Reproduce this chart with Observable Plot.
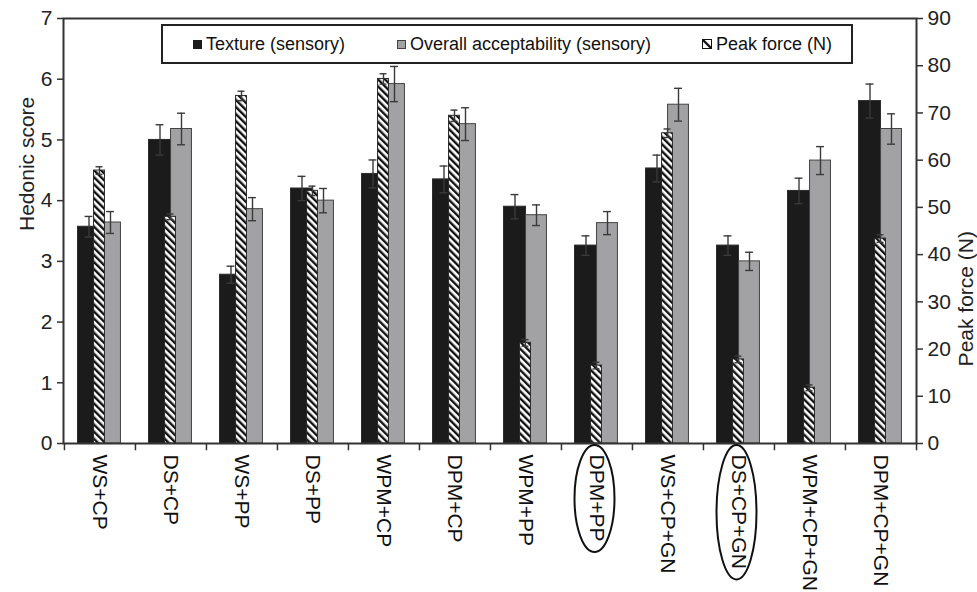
<!DOCTYPE html>
<html>
<head>
<meta charset="utf-8">
<script src="https://cdn.jsdelivr.net/npm/d3@7"></script>
<script src="https://cdn.jsdelivr.net/npm/@observablehq/plot@0.6"></script>
<style>
  body { margin: 0; background: #fff; font-family: "Liberation Sans", Arial, sans-serif; }
  #wrap { position: relative; width: 977px; height: 592px; }
  #wrap svg { display: block; }
  .legend { position: absolute; left: 161px; top: 24px; width: 692px; height: 40px;
            box-sizing: border-box; border: 2px solid #222; background: #fff; }
  .legend .item { position: absolute; top: 0; height: 36px; display: flex; align-items: center;
                  font-size: 18px; color: #111; white-space: nowrap; }
  .legend .sw { width: 9px; height: 9px; box-sizing: border-box; margin-right: 4px; }
</style>
</head>
<body>
<div id="wrap"></div>
<script>
// Treatments (flour + protein source [+ gluten])
const categories = ["WS+CP", "DS+CP", "WS+PP", "DS+PP", "WPM+CP", "DPM+CP", "WPM+PP",
                    "DPM+PP", "WS+CP+GN", "DS+CP+GN", "WPM+CP+GN", "DPM+CP+GN"];
// Sensory hedonic scores (left axis) with standard errors
const texture      = [3.57, 5.00, 2.78, 4.20, 4.44, 4.35, 3.90, 3.26, 4.53, 3.26, 4.16, 5.64];
const textureErr   = [0.17, 0.25, 0.14, 0.20, 0.23, 0.22, 0.20, 0.16, 0.22, 0.16, 0.21, 0.28];
const overall      = [3.64, 5.18, 3.86, 4.00, 5.92, 5.26, 3.76, 3.63, 5.58, 3.00, 4.66, 5.18];
const overallErr   = [0.18, 0.26, 0.19, 0.20, 0.29, 0.27, 0.17, 0.19, 0.27, 0.15, 0.23, 0.25];
// Instrumental peak force in newtons (right axis)
const peakForce    = [57.8, 48.0, 73.6, 53.5, 77.2, 69.4, 21.3, 16.5, 65.7, 17.8, 11.8, 43.4];
const peakForceErr = [0.8, 0.6, 1.0, 1.0, 1.1, 1.2, 0.7, 0.7, 0.9, 0.7, 0.6, 0.8];
// Axis ticks
const hedonicTicks = [0, 1, 2, 3, 4, 5, 6, 7];
const forceTicks   = [0, 10, 20, 30, 40, 50, 60, 70, 80, 90];
// Treatments circled below the axis
const highlighted  = ["DPM+PP", "DS+CP+GN"];

const hedonicMax = 7, forceMax = 90;
const k = hedonicMax / forceMax; // newtons -> hedonic units for the shared y scale

const rows = categories.map((cat, i) => ({
  cat,
  texture: texture[i], textureLo: texture[i] - textureErr[i], textureHi: texture[i] + textureErr[i],
  overall: overall[i], overallLo: overall[i] - overallErr[i], overallHi: overall[i] + overallErr[i],
  force: peakForce[i] * k,
  forceLo: (peakForce[i] - peakForceErr[i]) * k, forceHi: (peakForce[i] + peakForceErr[i]) * k
}));

const W = 977, H = 592, mL = 63, mR = 61, mT = 18, mB = 149;
const bw = (W - mL - mR) / categories.length;
const half = bw / 2;
const ink = "#2a2a2a";
const errInk = "#3a3a3a";

// bar geometry within each band
const blackIn = {insetLeft: half - 22, insetRight: half};
const greyIn  = {insetLeft: half, insetRight: half - 21};
const hatchIn = {insetLeft: half - 6, insetRight: half - 5};

function errorBar(lo, hi, offset, capHalf) {
  const cap = {insetLeft: half + offset - capHalf, insetRight: half - offset - capHalf,
               stroke: errInk, strokeWidth: 1.4};
  return [
    Plot.ruleX(rows, {x: "cat", y1: lo, y2: hi, dx: offset, stroke: errInk, strokeWidth: 1.4}),
    Plot.tickY(rows, {x: "cat", y: hi, ...cap}),
    Plot.tickY(rows, {x: "cat", y: lo, ...cap})
  ];
}

const chart = Plot.plot({
  width: W, height: H,
  marginLeft: mL, marginRight: mR, marginTop: mT, marginBottom: mB,
  style: {fontFamily: '"Liberation Sans", Arial, sans-serif', fontSize: "21px", color: "#222", background: "#fff"},
  x: {domain: categories, padding: 0, axis: null},
  y: {domain: [0, hedonicMax], axis: null},
  marks: [
    Plot.barY(rows, {x: "cat", y: "texture", fill: "#1b1b1b", stroke: ink, strokeWidth: 1, ...blackIn}),
    Plot.barY(rows, {x: "cat", y: "overall", fill: "#a2a2a4", stroke: "#444", strokeWidth: 1, ...greyIn}),
    Plot.barY(rows, {x: "cat", y: "force", fill: "url(#hatch)", stroke: ink, strokeWidth: 1, ...hatchIn}),
    ...errorBar("textureLo", "textureHi", -11, 4),
    ...errorBar("overallLo", "overallHi", 10.5, 4),
    ...errorBar("forceLo", "forceHi", -0.5, 3.5),
    Plot.frame({stroke: "#333", strokeWidth: 2}),
    // band separators below the category axis
    Plot.ruleX(categories, {x: d => d, dx: -half, y1: 0, y2: -0.12, stroke: "#333", strokeWidth: 1.5}),
    Plot.ruleX(categories.slice(-1), {x: d => d, dx: half, y1: 0, y2: -0.12, stroke: "#333", strokeWidth: 1.5}),
    Plot.axisY(hedonicTicks, {anchor: "left", tickSize: 6, tickPadding: 5, label: null,
                fontSize: 21, stroke: "#333", strokeWidth: 1.5, tickFormat: d => String(d)}),
    Plot.axisY(forceTicks.map(n => n * k), {anchor: "right", tickSize: 6, tickPadding: 5, label: null,
                fontSize: 21, stroke: "#333", strokeWidth: 1.5, tickFormat: v => String(Math.round(v / k))}),
    Plot.text(categories, {x: d => d, y: 0, rotate: 90, textAnchor: "start", dy: 11,
                           fontSize: 21, fill: "#111"}),
    Plot.text(["Hedonic score"], {frameAnchor: "left", rotate: -90, dx: -36, fontSize: 21, fill: "#222"}),
    Plot.text(["Peak force (N)"], {frameAnchor: "right", rotate: -90, dx: 50, fontSize: 21, fill: "#222"})
  ]
});

// diagonal hatch used by the peak-force bars
const svg = d3.select(chart);
const defs = svg.insert("defs", ":first-child");
const pat = defs.append("pattern").attr("id", "hatch").attr("patternUnits", "userSpaceOnUse")
  .attr("width", 5).attr("height", 5).attr("patternTransform", "rotate(-45)");
pat.append("rect").attr("width", 5).attr("height", 5).attr("fill", "#fff");
pat.append("rect").attr("width", 2.4).attr("height", 5).attr("fill", "#111");

const wrap = document.getElementById("wrap");
wrap.appendChild(chart);

// ellipses around the circled category labels
const xs = chart.scale("x"), ys = chart.scale("y");
const axisY0 = ys.apply(0);
svg.selectAll("text").each(function () {
  const label = this.textContent;
  if (!highlighted.includes(label) || this.getAttribute("transform") == null) return;
  if (!/rotate\(90\)/.test(this.getAttribute("transform"))) return;
  const len = this.getComputedTextLength();
  const cx = xs.apply(label) + xs.bandwidth / 2 - 2;
  svg.append("ellipse")
    .attr("cx", cx).attr("cy", axisY0 + 11 + len / 2 + 1)
    .attr("rx", 20).attr("ry", len / 2 + 10)
    .attr("fill", "none").attr("stroke", "#111").attr("stroke-width", 2);
});

// legend inside the top of the frame
const legend = document.createElement("div");
legend.className = "legend";
legend.innerHTML = `
  <div class="item" style="left:30px"><div class="sw" style="background:#1b1b1b"></div>Texture (sensory)</div>
  <div class="item" style="left:234px"><div class="sw" style="background:#a2a2a4;border:1px solid #444"></div>Overall acceptability (sensory)</div>
  <div class="item" style="left:539px"><svg class="sw" width="10" height="10" viewBox="0 0 10 10" style="width:10px;height:10px;margin-right:4px">
      <rect x="0.5" y="0.5" width="9" height="9" fill="#fff" stroke="#111"/>
      <path d="M1,1 L9,9" stroke="#111" stroke-width="2.4"/>
    </svg>Peak force (N)</div>`;
wrap.appendChild(legend);
</script>
</body>
</html>
